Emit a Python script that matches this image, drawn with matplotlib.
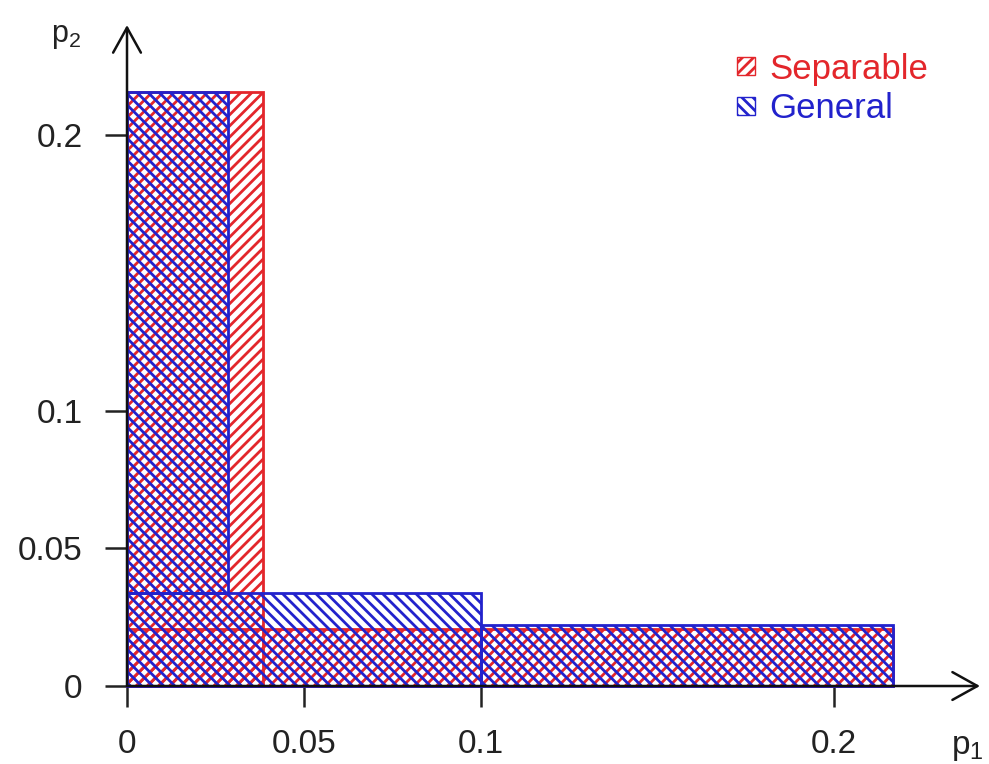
import matplotlib
matplotlib.use("Agg")
import matplotlib.pyplot as plt
from matplotlib.patches import Rectangle, Patch

plt.rcParams['font.family'] = ['Liberation Sans', 'DejaVu Sans']
plt.rcParams['hatch.linewidth'] = 2.0

# ---- data (region boundaries in (p1, p2) space) ----
# Separable region: rectangles given as (x0, x1, y0, y1)
sep_x0 = [0.0, 0.0]
sep_x1 = [0.0385, 0.2167]
sep_y0 = [0.0, 0.0]
sep_y1 = [0.2156, 0.0207]

# General region: rectangles given as (x0, x1, y0, y1)
gen_x0 = [0.0, 0.0, 0.1]
gen_x1 = [0.0286, 0.1, 0.2167]
gen_y0 = [0.0338, 0.0, 0.0]
gen_y1 = [0.2156, 0.0338, 0.0220]

x_ticks = [0, 0.05, 0.1, 0.2]
x_tick_labels = ['0', '0.05', '0.1', '0.2']
y_ticks = [0, 0.05, 0.1, 0.2]
y_tick_labels = ['0', '0.05', '0.1', '0.2']

legend_labels = ['Separable', 'General']

RED = '#e3262b'
BLUE = '#2222cc'
SEP_HATCH = '///'
GEN_HATCH = '\\\\\\'

fig = plt.figure(figsize=(9.89, 7.64), dpi=100)
ax = fig.add_axes([0, 0, 1, 1])
ax.set_xlim(-0.03593, 0.24385)
ax.set_ylim(-0.02831, 0.2490)

for x0, x1, y0, y1 in zip(sep_x0, sep_x1, sep_y0, sep_y1):
    ax.add_patch(Rectangle((x0, y0), x1 - x0, y1 - y0, facecolor='none',
                           edgecolor=RED, hatch=SEP_HATCH, lw=2.0, zorder=2))
for x0, x1, y0, y1 in zip(gen_x0, gen_x1, gen_y0, gen_y1):
    ax.add_patch(Rectangle((x0, y0), x1 - x0, y1 - y0, facecolor='none',
                           edgecolor=BLUE, hatch=GEN_HATCH, lw=2.0, zorder=3))

# axes through the origin
for s in ['top', 'right']:
    ax.spines[s].set_visible(False)
ax.spines['left'].set_position(('data', 0))
ax.spines['bottom'].set_position(('data', 0))
ax.spines['left'].set_visible(False)
ax.spines['bottom'].set_visible(False)

ax.set_xticks(x_ticks)
ax.set_xticklabels(x_tick_labels)
ax.set_yticks(y_ticks)
ax.set_yticklabels(y_tick_labels)
ax.tick_params(axis='x', direction='out', length=15, width=1.8, pad=16,
               labelsize=24, colors='#222222')
ax.tick_params(axis='y', direction='out', length=16, width=1.8, pad=16,
               labelsize=24, colors='#222222')

arrow = dict(arrowstyle='->, head_length=18, head_width=10', lw=1.8,
             color='#111111', mutation_scale=1, shrinkA=0, shrinkB=0)
ax.annotate('', xy=(0.2413, 0), xytext=(0, 0), arrowprops=arrow, zorder=5)
ax.annotate('', xy=(0, 0.2399), xytext=(0, 0), arrowprops=arrow, zorder=5)

ax.text(0.2330, -0.0225, r'$\mathregular{p_1}$', fontsize=24, color='#222222',
        ha='left', va='center')
ax.text(-0.0215, 0.2360, r'$\mathregular{p_2}$', fontsize=22, color='#222222',
        ha='left', va='center')

handles = [Patch(facecolor='white', edgecolor=RED, hatch=SEP_HATCH, lw=1.0),
           Patch(facecolor='white', edgecolor=BLUE, hatch=GEN_HATCH, lw=1.0)]
leg = ax.legend(handles, legend_labels, loc='upper left',
                bbox_to_anchor=(0.745, 0.931), frameon=False, fontsize=25,
                handlelength=0.52, handleheight=0.42, handletextpad=0.42,
                labelspacing=0.18, borderaxespad=0, borderpad=0)
for t, c in zip(leg.get_texts(), [RED, BLUE]):
    t.set_color(c)

fig.savefig('out.png', dpi=100)
